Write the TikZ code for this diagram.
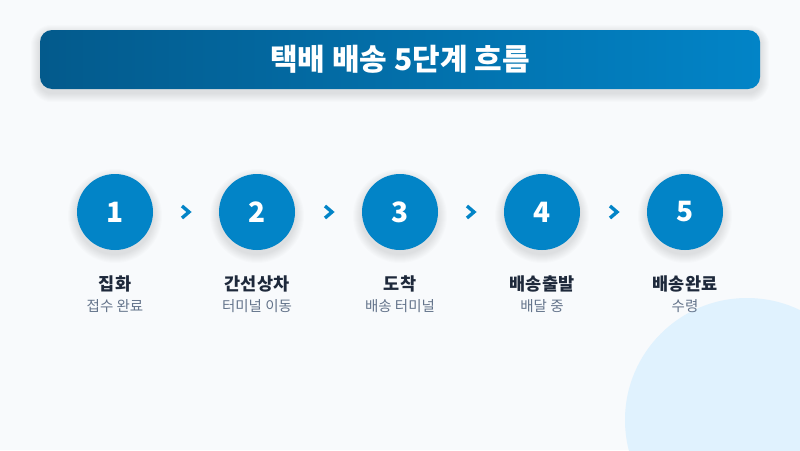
\documentclass[tikz,border=0pt]{standalone}
\usepackage{fontspec}
\setmainfont{Noto Sans CJK KR}
\usepackage{tikz}

\definecolor{pagebg}{HTML}{F8FAFC}
\definecolor{headleft}{HTML}{035A8C}
\definecolor{headright}{HTML}{0284C7}
\definecolor{stepblue}{HTML}{0284C7}
\definecolor{titledark}{HTML}{1E293B}
\definecolor{subgray}{HTML}{64748B}
\definecolor{blob}{HTML}{E0F2FE}

\pgfdeclarelayer{bottom}
\pgfdeclarelayer{shade}
\pgfsetlayers{bottom,shade,main}

\begin{document}
\begin{tikzpicture}[x=1pt, y=-1pt,
        header/.style={rounded corners=12pt, minimum width=720pt, minimum height=59pt,
            left color=headleft, right color=headright, text=white,
            font=\fontsize{30}{32}\selectfont\bfseries},
        stepcircle/.style={circle, fill=stepblue, minimum size=76pt, inner sep=0pt, text=white,
            font=\fontsize{28}{30}\selectfont\bfseries},
        steptitle/.style={text=titledark, font=\fontsize{17.5}{20}\selectfont\bfseries},
        stepsub/.style={text=subgray, font=\fontsize{14.5}{16}\selectfont},
        chevron/.style={draw=stepblue, line width=3.4pt, line cap=butt, line join=miter},
        softshade/.style={fill=black, opacity=0.012}
    ]
        \useasboundingbox (0,0) rectangle (800,450);
        \begin{pgfonlayer}{bottom}
            \fill[pagebg] (0,0) rectangle (800,450);
            \clip (0,0) rectangle (800,450);
            \fill[blob] (747,420) circle (122);
        \end{pgfonlayer}

        % header bar
        \node[header] (head) at (400,59.5) {택배 배송 5단계 흐름};

        % steps
        \node[stepcircle] (c1) at (115,212) {1};
        \node[stepcircle] (c2) at (257,212) {2};
        \node[stepcircle] (c3) at (400,212) {3};
        \node[stepcircle] (c4) at (542,212) {4};
        \node[stepcircle] (c5) at (685,212) {5};

        \node[steptitle] (t1) at (115,284) {집화};
        \node[steptitle] (t2) at (257,284) {간선상차};
        \node[steptitle] (t3) at (400,284) {도착};
        \node[steptitle] (t4) at (542,284) {배송출발};
        \node[steptitle] (t5) at (685,284) {배송완료};

        \node[stepsub] (s1) at (115,306) {접수 완료};
        \node[stepsub] (s2) at (257,306) {터미널 이동};
        \node[stepsub] (s3) at (400,306) {배송 터미널};
        \node[stepsub] (s4) at (542,306) {배달 중};
        \node[stepsub] (s5) at (685,306) {수령};

        % soft shadows under header and circles
        \begin{pgfonlayer}{shade}
            \foreach \g in {1,...,9}
                \fill[softshade, rounded corners=12pt+\g pt]
                    ([xshift=-\g pt, yshift=-4pt-\g pt]head.south west) rectangle ([xshift=\g pt, yshift=-4pt+\g pt]head.north east);
            \foreach \n in {c1,c2,c3,c4,c5}
                \foreach \g in {1,...,9}
                    \fill[softshade] ([yshift=-4pt]\n.center) circle (38+\g);
        \end{pgfonlayer}

        % chevrons between steps
        \coordinate (a1) at (186,212);
        \coordinate (a2) at (329,212);
        \coordinate (a3) at (471,212);
        \coordinate (a4) at (614,212);
        \draw[chevron] ([xshift=-4pt,yshift=6pt]a1) -- ([xshift=3pt]a1) -- ([xshift=-4pt,yshift=-6pt]a1);
        \draw[chevron] ([xshift=-4pt,yshift=6pt]a2) -- ([xshift=3pt]a2) -- ([xshift=-4pt,yshift=-6pt]a2);
        \draw[chevron] ([xshift=-4pt,yshift=6pt]a3) -- ([xshift=3pt]a3) -- ([xshift=-4pt,yshift=-6pt]a3);
        \draw[chevron] ([xshift=-4pt,yshift=6pt]a4) -- ([xshift=3pt]a4) -- ([xshift=-4pt,yshift=-6pt]a4);
    \end{tikzpicture}
\end{document}
